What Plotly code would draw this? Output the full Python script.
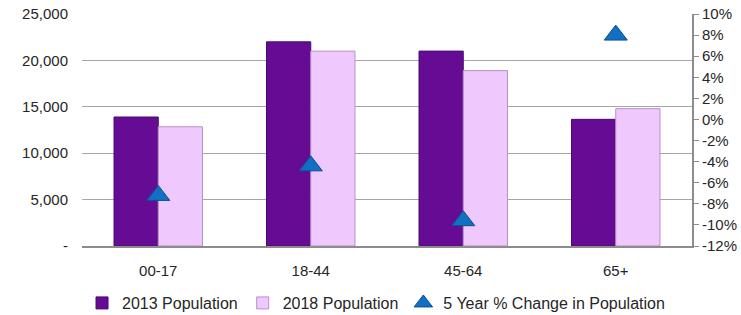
import plotly.graph_objects as go

categories = ["00-17", "18-44", "45-64", "65+"]
pop_2013 = [13900, 22000, 21000, 13650]
pop_2018 = [12850, 21000, 18900, 14800]
pct_change = [-7.2, -4.4, -9.6, 8.0]

left_tickvals = [0, 5000, 10000, 15000, 20000, 25000]
left_ticktext = ["-", "5,000", "10,000", "15,000", "20,000", "25,000"]
right_tickvals = [10, 8, 6, 4, 2, 0, -2, -4, -6, -8, -10, -12]
right_ticktext = [f"{v}%" for v in right_tickvals]

font = dict(family="Liberation Sans, Arial, sans-serif", size=15, color="#262626")

fig = go.Figure()
fig.add_trace(go.Bar(
    x=categories, y=pop_2013, name="2013 Population",
    marker=dict(color="#660C94", line=dict(color="#4A0870", width=1)),
))
fig.add_trace(go.Bar(
    x=categories, y=pop_2018, name="2018 Population",
    marker=dict(color="#EFC8FD", line=dict(color="#B790C8", width=1)),
))
fig.add_trace(go.Scatter(
    x=categories, y=pct_change, name="5 Year % Change in Population",
    mode="markers", yaxis="y2",
    marker=dict(symbol="triangle-up", size=20, color="#1270C4",
                line=dict(color="#0B4F8E", width=1)),
))

fig.update_layout(
    width=741, height=315,
    margin=dict(l=82, r=49, t=14, b=69, autoexpand=False),
    paper_bgcolor="white", plot_bgcolor="white",
    font=font,
    barmode="group", bargap=0.42, bargroupgap=0,
    showlegend=True,
    legend=dict(orientation="h", x=0.482, xanchor="center",
                yref="container", y=0.038, yanchor="middle",
                bgcolor="rgba(0,0,0,0)",
                font=dict(size=16, color="#262626"), itemwidth=30,
                traceorder="normal", tracegroupgap=0),
    xaxis=dict(showgrid=False, showline=True, linecolor="#8C8C8C", linewidth=2,
               ticks="", tickfont=font, automargin=False, ticklabelstandoff=10),
    yaxis=dict(range=[0, 25000], tickvals=left_tickvals, ticktext=left_ticktext,
               showgrid=True, gridcolor="#A6A6A6", gridwidth=1,
               showline=False, zeroline=False,
               ticks="outside", ticklen=10, tickcolor="rgba(0,0,0,0)",
               tickfont=font, automargin=False),
    yaxis2=dict(range=[-12, 10], overlaying="y", side="right",
                tickvals=right_tickvals, ticktext=right_ticktext,
                showgrid=False, zeroline=False, showline=True,
                linecolor="#8C8C8C", linewidth=2,
                ticks="outside", ticklen=5, tickcolor="#8C8C8C",
                tickfont=font, automargin=False),
)

fig.write_html("out.html", config={"displayModeBar": False},
               post_script="document.body.style.margin='0';document.body.style.padding='0';")
